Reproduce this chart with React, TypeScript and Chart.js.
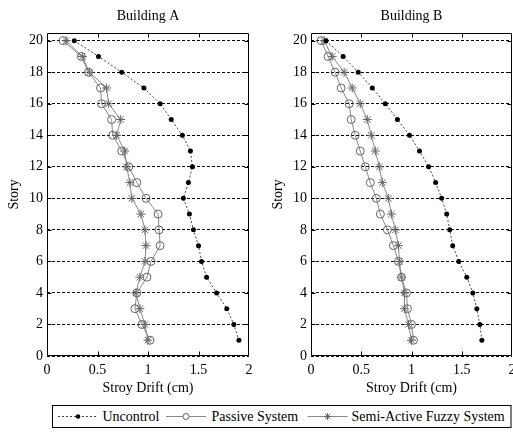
import React, { useEffect, useRef } from "react";
import { Chart, registerables } from "chart.js";

Chart.register(...registerables);

// ---------- data ----------
const stories = [20, 19, 18, 17, 16, 15, 14, 13, 12, 11, 10, 9, 8, 7, 6, 5, 4, 3, 2, 1];
const yTicks = [0, 2, 4, 6, 8, 10, 12, 14, 16, 18, 20];
const xTicks = [0, 0.5, 1, 1.5, 2];

const uncontrolA = [0.27, 0.51, 0.74, 0.96, 1.12, 1.23, 1.34, 1.42, 1.44, 1.40, 1.35, 1.41, 1.45, 1.50, 1.53, 1.58, 1.68, 1.78, 1.85, 1.90];
const passiveA = [0.16, 0.34, 0.41, 0.53, 0.54, 0.64, 0.65, 0.74, 0.81, 0.89, 0.98, 1.10, 1.11, 1.12, 1.03, 0.99, 0.89, 0.87, 0.94, 1.02];
const semiA = [0.19, 0.35, 0.42, 0.59, 0.61, 0.73, 0.69, 0.77, 0.79, 0.82, 0.84, 0.93, 0.97, 0.98, 0.97, 0.92, 0.88, 0.92, 0.97, 1.00];

const uncontrolB = [0.15, 0.32, 0.47, 0.61, 0.74, 0.86, 0.98, 1.08, 1.17, 1.24, 1.30, 1.35, 1.38, 1.41, 1.47, 1.55, 1.61, 1.65, 1.68, 1.70];
const passiveB = [0.10, 0.17, 0.24, 0.30, 0.38, 0.40, 0.44, 0.49, 0.54, 0.59, 0.65, 0.69, 0.76, 0.82, 0.87, 0.90, 0.95, 0.96, 1.00, 1.02];
const semiB = [0.13, 0.21, 0.33, 0.41, 0.49, 0.56, 0.60, 0.64, 0.68, 0.71, 0.77, 0.80, 0.84, 0.87, 0.88, 0.90, 0.93, 0.93, 0.97, 1.00];

const seriesNames = ["Uncontrol", "Passive System", "Semi-Active Fuzzy System"];

// ---------- styles ----------
const FONT = "'Liberation Serif', 'Times New Roman', Times, serif";
const FS = 14;
const UNC_LINE = "#444444";
const GRAY_LINE = "#888888";
const GRAY_MARK = "#666666";

function toPoints(vals: number[]) {
  return vals.map((v, i) => ({ x: v, y: stories[i] }));
}

const framePlugin = {
  id: "frame",
  afterDraw(chart: any) {
    const { ctx, chartArea } = chart;
    const l = Math.round(chartArea.left) + 0.5;
    const r = Math.round(chartArea.right) - 0.5;
    const t = Math.round(chartArea.top) + 0.5;
    const b = Math.round(chartArea.bottom) - 0.5;
    ctx.save();
    ctx.strokeStyle = "#000";
    ctx.lineWidth = 1;
    ctx.setLineDash([]);
    ctx.beginPath();
    ctx.rect(l, t, r - l, b - t);
    const tl = 4;
    const xs = chart.scales.x;
    xTicks.forEach((v) => {
      const px = Math.round(xs.getPixelForValue(v)) + 0.5;
      if (px <= l + 1 || px >= r - 1) return;
      ctx.moveTo(px, b);
      ctx.lineTo(px, b - tl);
      ctx.moveTo(px, t);
      ctx.lineTo(px, t + tl);
    });
    const ys = chart.scales.y;
    yTicks.forEach((v) => {
      const py = Math.round(ys.getPixelForValue(v)) + 0.5;
      if (py <= t + 1 || py >= b - 1) return;
      ctx.moveTo(l, py);
      ctx.lineTo(l + tl, py);
      ctx.moveTo(r, py);
      ctx.lineTo(r - tl, py);
    });
    ctx.stroke();
    ctx.restore();
  },
};

function makeConfig(title: string, u: number[], p: number[], s: number[], padRight: number): any {
  const font = { family: FONT, size: FS, weight: "normal" as const };
  return {
    type: "scatter",
    data: {
      datasets: [
        {
          label: seriesNames[0],
          data: toPoints(u),
          showLine: true,
          borderColor: UNC_LINE,
          borderWidth: 1,
          borderDash: [2, 2],
          pointStyle: "circle",
          pointRadius: 2.5,
          pointBackgroundColor: "#000",
          pointBorderColor: "#000",
          pointBorderWidth: 0,
        },
        {
          label: seriesNames[1],
          data: toPoints(p),
          showLine: true,
          borderColor: GRAY_LINE,
          borderWidth: 1,
          pointStyle: "circle",
          pointRadius: 4,
          pointBackgroundColor: "rgba(255,255,255,0)",
          pointBorderColor: GRAY_MARK,
          pointBorderWidth: 1,
        },
        {
          label: seriesNames[2],
          data: toPoints(s),
          showLine: true,
          borderColor: GRAY_LINE,
          borderWidth: 1,
          pointStyle: "star",
          pointRadius: 4.5,
          pointBackgroundColor: "rgba(255,255,255,0)",
          pointBorderColor: GRAY_MARK,
          pointBorderWidth: 1,
        },
      ],
    },
    options: {
      animation: false,
      responsive: false,
      events: [],
      layout: { padding: { left: 0, top: 0, bottom: 0, right: padRight } },
      plugins: {
        legend: { display: false },
        tooltip: { enabled: false },
        title: {
          display: true,
          fullSize: false,
          text: title,
          color: "#000",
          font,
          padding: { top: 8, bottom: 8 },
        },
      },
      scales: {
        x: {
          type: "linear",
          position: "bottom",
          min: 0,
          max: 2,
          afterBuildTicks: (sc: any) => {
            sc.ticks = xTicks.map((v) => ({ value: v }));
          },
          afterFit: (sc: any) => {
            sc.height = 44;
          },
          grid: { display: false, drawTicks: false },
          border: { display: false },
          ticks: {
            color: "#000",
            font,
            padding: 6,
            maxRotation: 0,
            autoSkip: false,
            callback: (v: any) => String(v),
          },
          title: {
            display: true,
            text: "Stroy Drift (cm)",
            color: "#000",
            font,
            padding: { top: 0, bottom: 3 },
          },
        },
        y: {
          type: "linear",
          min: 0,
          max: 20.5,
          afterBuildTicks: (sc: any) => {
            sc.ticks = yTicks.map((v) => ({ value: v }));
          },
          afterFit: (sc: any) => {
            sc.width = 47;
          },
          grid: { display: true, color: "#000", lineWidth: 1, drawTicks: false, borderDash: [3, 2] },
          border: { display: false, dash: [3, 2] },
          ticks: {
            color: "#000",
            font,
            padding: 4,
            autoSkip: false,
            callback: (v: any) => String(v),
          },
          title: {
            display: true,
            text: "Story",
            color: "#000",
            font,
            padding: { top: 6, bottom: 0 },
          },
        },
      },
    },
    plugins: [framePlugin],
  };
}

function Legend() {
  const y = 416.5;
  const star = (cx: number, cy: number, r: number) => {
    const d = r * 0.7071;
    return `M${cx - r},${cy}L${cx + r},${cy}M${cx},${cy - r}L${cx},${cy + r}M${cx - d},${cy - d}L${cx + d},${cy + d}M${cx - d},${cy + d}L${cx + d},${cy - d}`;
  };
  const textStyle: any = { fontFamily: FONT, fontSize: FS, fill: "#000" };
  return (
    <svg
      width={513}
      height={432}
      style={{ position: "absolute", left: 0, top: 0, pointerEvents: "none" }}
    >
      <rect x={52.5} y={405.5} width={458.5} height={22} fill="#fff" stroke="#000" strokeWidth={1} />
      <line x1={58} y1={y} x2={98} y2={y} stroke={UNC_LINE} strokeWidth={1} strokeDasharray="2 2" />
      <circle cx={78} cy={y} r={2.3} fill="#000" />
      <text x={102.5} y={y} dominantBaseline="central" style={textStyle}>{seriesNames[0]}</text>
      <line x1={166} y1={y} x2={206} y2={y} stroke={GRAY_LINE} strokeWidth={1} />
      <circle cx={186} cy={y} r={3} fill="#fff" stroke={GRAY_MARK} strokeWidth={1} />
      <text x={211.5} y={y} dominantBaseline="central" style={textStyle}>{seriesNames[1]}</text>
      <line x1={307.5} y1={y} x2={347.5} y2={y} stroke={GRAY_LINE} strokeWidth={1} />
      <path d={star(327.5, y, 3.5)} stroke={GRAY_MARK} strokeWidth={1} fill="none" />
      <text x={351.5} y={y} dominantBaseline="central" style={textStyle}>{seriesNames[2]}</text>
    </svg>
  );
}

export default function App() {
  const refA = useRef<HTMLCanvasElement | null>(null);
  const refB = useRef<HTMLCanvasElement | null>(null);

  useEffect(() => {
    const a = new Chart(refA.current as HTMLCanvasElement, makeConfig("Building A", uncontrolA, passiveA, semiA, 13));
    const b = new Chart(refB.current as HTMLCanvasElement, makeConfig("Building B", uncontrolB, passiveB, semiB, 14));
    return () => {
      a.destroy();
      b.destroy();
    };
  }, []);

  return (
    <div
      style={{
        position: "fixed",
        left: 0,
        top: 0,
        width: 513,
        height: 432,
        overflow: "hidden",
        background: "#fff",
      }}
    >
      <canvas
        ref={refA}
        width={262}
        height={400}
        style={{ position: "absolute", left: 0, top: 0, width: 262, height: 400 }}
      />
      <canvas
        ref={refB}
        width={262}
        height={400}
        style={{ position: "absolute", left: 264, top: 0, width: 262, height: 400 }}
      />
      <Legend />
    </div>
  );
}
